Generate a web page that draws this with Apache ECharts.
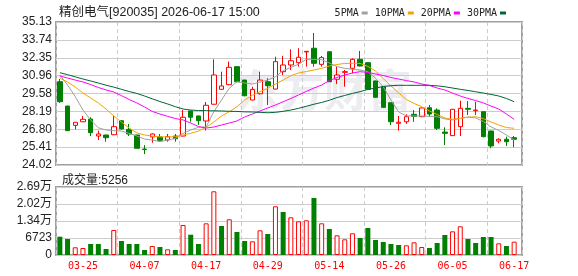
<!DOCTYPE html>
<html>
<head>
<meta charset="utf-8">
<script src="https://cdn.jsdelivr.net/npm/echarts@6/dist/echarts.min.js"></script>
<style>
  html, body { margin: 0; padding: 0; background: #fff; }
  #main { width: 578px; height: 276px; }
</style>
</head>
<body>
<div id="main"></div>
<script>
const dates = ['03-20','03-23','03-24','03-25','03-26','03-27','03-30','03-31','04-01','04-02',
  '04-03','04-07','04-08','04-09','04-10','04-13','04-14','04-15','04-16','04-17',
  '04-20','04-21','04-22','04-23','04-24','04-27','04-28','04-29','04-30','05-06',
  '05-07','05-08','05-11','05-12','05-13','05-14','05-15','05-18','05-19','05-20',
  '05-21','05-22','05-25','05-26','05-27','05-28','05-29','06-01','06-02','06-03',
  '06-04','06-05','06-08','06-09','06-10','06-11','06-12','06-15','06-16','06-17'];

// [open, close, low, high]
const candles = [
  [30.49,28.94,28.84,30.70],[28.60,26.69,26.67,28.62],[27.10,27.34,26.79,27.36],[27.38,27.57,27.36,27.83],
  [27.59,26.53,26.27,27.73],[26.27,26.43,25.96,26.69],[26.35,26.14,25.83,26.37],[26.37,27.00,26.35,27.83],
  [27.46,26.82,26.78,27.50],[26.79,26.43,26.27,27.21],[26.35,25.32,25.30,26.36],[25.26,25.22,24.87,25.57],
  [26.20,26.43,25.75,26.48],[26.20,25.94,25.83,26.43],[25.96,26.22,25.83,26.43],[26.27,26.06,25.83,26.43],
  [26.27,27.73,26.25,28.29],[28.22,27.73,27.38,28.24],[27.83,27.46,27.13,27.85],[27.44,28.66,26.69,28.91],
  [28.74,31.01,28.72,32.23],[29.90,30.16,29.88,31.27],[30.26,31.61,30.22,32.05],[31.66,30.49,30.45,31.68],
  [30.62,29.40,29.36,30.64],[29.07,29.88,29.05,30.10],[29.56,30.62,29.50,31.27],[30.49,30.18,28.68,30.76],
  [29.92,32.05,29.90,32.43],[31.27,31.79,31.01,32.50],[31.79,32.12,31.40,33.01],[31.97,32.39,31.66,33.09],
  [32.80,32.85,31.66,32.87],[33.09,31.92,31.66,34.28],[31.84,32.36,31.66,32.49],[32.82,30.49,30.47,32.84],
  [30.68,31.01,30.31,31.66],[31.22,31.27,30.10,31.40],[31.53,32.23,31.14,32.31],[32.23,31.71,31.69,32.88],
  [31.97,29.90,29.85,32.00],[30.55,29.28,29.26,30.57],[30.10,28.50,28.46,30.12],[28.86,27.38,27.13,28.88],
  [27.26,27.34,26.69,27.83],[27.38,27.77,27.21,27.96],[27.96,27.80,27.38,28.29],[27.77,28.45,27.75,28.47],
  [28.47,27.98,27.77,28.68],[28.29,26.87,26.74,28.42],[26.58,26.48,25.57,26.95],[26.30,28.35,26.28,28.37],
  [27.00,28.42,26.27,29.02],[28.42,28.35,27.90,28.99],[28.24,28.29,27.90,28.94],[28.16,26.22,26.17,28.18],
  [26.66,25.50,25.32,26.68],[25.88,26.02,25.71,26.09],[26.02,25.83,25.50,26.22],[26.14,26.02,25.40,26.27]
];

const ma5 = [31.01,30.24,29.33,28.29,27.52,26.91,26.74,26.69,26.66,26.48,26.27,26.04,25.96,25.83,25.96,
  26.09,26.48,26.74,26.95,26.98,28.16,29.07,29.98,30.49,30.39,30.31,30.47,30.62,30.88,31.35,
  31.60,31.85,32.23,32.23,32.20,31.95,31.66,31.53,31.45,31.40,31.27,30.76,30.10,29.07,28.14,
  27.83,27.83,27.83,27.80,27.77,27.60,27.52,27.65,27.75,27.67,27.40,26.98,26.70,26.35,25.96];
const ma10 = [30.76,30.47,30.08,29.61,29.23,28.84,28.37,27.83,27.36,26.89,26.51,26.35,26.27,26.20,26.20,
  26.22,26.35,26.48,26.66,26.95,27.36,27.83,28.16,28.55,29.07,29.43,29.72,29.98,30.31,30.62,
  30.96,31.17,31.28,31.40,31.53,31.71,31.83,31.91,31.92,31.91,31.68,31.32,30.74,30.16,29.62,
  29.11,28.80,28.55,28.22,27.94,27.67,27.57,27.63,27.73,27.77,27.63,27.36,27.13,26.93,26.87];
const ma20 = [30.93,30.78,30.62,30.47,30.27,30.04,29.85,29.69,29.41,29.11,28.84,28.53,28.18,27.98,27.80,
  27.63,27.52,27.28,27.01,26.89,26.97,27.13,27.28,27.44,27.75,27.98,28.22,28.45,28.68,28.94,
  29.19,29.46,29.73,30.00,30.23,30.58,30.82,31.01,31.17,31.27,31.21,31.09,30.97,30.82,30.70,
  30.58,30.47,30.31,30.20,30.00,29.85,29.61,29.38,29.19,29.03,28.84,28.60,28.37,27.98,27.57];
const ma30 = [31.19,31.04,30.87,30.70,30.55,30.39,30.22,30.07,29.90,29.73,29.58,29.38,29.16,28.95,28.76,
  28.55,28.37,28.29,28.25,28.24,28.23,28.22,28.19,28.18,28.15,28.14,28.11,28.08,28.11,28.19,
  28.29,28.42,28.58,28.74,28.88,29.05,29.26,29.42,29.58,29.72,29.89,30.00,30.12,30.18,30.21,
  30.21,30.21,30.21,30.21,30.17,30.10,30.00,29.90,29.81,29.71,29.61,29.50,29.38,29.19,28.94];

const volumes = [7240,6330,3050,2770,4350,4350,2370,9890,5540,4350,
  4350,1980,3560,3160,2250,1980,11870,8030,4350,12530,
  25190,11470,14120,9100,5540,5410,9760,8300,19260,17010,
  14900,13320,13720,22540,12530,10280,7780,6200,8580,6720,
  10680,5930,5140,4350,3955,3820,5010,3160,2770,4750,
  7910,9360,11340,6330,4750,7120,7120,4610,3560,5256];
// 1 = up (red hollow), 0 = down (green)
const volUp = [0,0,1,1,0,0,0,1,0,0, 0,0,1,0,1,0,1,0,0,1, 1,0,1,0,0,1,1,0,1,0,
  1,1,1,0,1,0,1,1,1,0, 0,0,0,0,0,1,1,1,0,0, 0,1,1,0,0,0,0,1,0,1];

const priceTicks = ['24.02','25.41','26.80','28.19','29.58','30.96','32.35','33.74','35.13'];
const volTicks = ['0','6723','1.34万','2.02万','2.69万'];
const priceMin = 24.02, priceMax = 35.13;
const volMax = 26892;

const titleText = '精创电气[920035] 2026-06-17 15:00';
const maNames = ['5PMA','10PMA','20PMA','30PMA'];
const maColors = ['#a0a0a0','#f5a300','#ff00ff','#006633'];

const upColor = '#ff0000';
const downColor = '#008000';
const labelFont = 'Liberation Sans, Noto Sans CJK SC, sans-serif';
const monoFont = 'DejaVu Sans Mono, monospace';

const chart = echarts.init(document.getElementById('main'), null, {renderer: 'canvas'});

const showIdx = function (index) { return index % 8 === 3; };

const option = {
  animation: false,
  backgroundColor: '#fff',
  title: [
    {
      text: titleText, left: 54, top: 1,
      textStyle: {fontSize: 12.5, fontWeight: 'normal', color: '#222', fontFamily: labelFont}
    },
    {
      text: '成交量:' + volumes[volumes.length - 1], left: 57, top: 170,
      textStyle: {fontSize: 12, fontWeight: 'normal', color: '#222', fontFamily: labelFont}
    }
  ],
  legend: {
    data: maNames,
    right: 67, top: 3,
    align: 'right',
    icon: 'rect',
    itemWidth: 6, itemHeight: 3,
    itemGap: 7,
    textStyle: {fontSize: 10, color: '#222', fontFamily: monoFont, padding: [0, -2, 0, 0]}
  },
  graphic: [
    {
      type: 'text', left: 236, top: 68, z: -1, silent: true,
      style: {text: '东方财富', fontSize: 44, fontWeight: 'bold', fill: '#ededf1',
        fontFamily: 'Noto Sans CJK SC'}
    }
  ],
  grid: [
    {left: 56, top: 22, width: 462, height: 143, show: false},
    {left: 56, top: 187, width: 462, height: 68, show: false},
    {left: 56, top: 22, width: 466, height: 143, show: true, borderColor: '#a0a0a0', borderWidth: 2},
    {left: 56, top: 187, width: 466, height: 68, show: true, borderColor: '#a0a0a0', borderWidth: 2}
  ],
  xAxis: [
    {
      type: 'category', gridIndex: 0, data: dates, boundaryGap: true,
      axisLine: {show: false}, axisTick: {show: false}, axisLabel: {show: false}, splitLine: {show: false}
    },
    {
      type: 'category', gridIndex: 1, data: dates, boundaryGap: true,
      axisLine: {show: false}, axisTick: {show: false}, splitLine: {show: false},
      axisLabel: {interval: showIdx, color: upColor, fontSize: 10, fontFamily: monoFont, margin: 6}
    },
    {
      // frame axis: dashed verticals through every 8th candle centre
      type: 'value', gridIndex: 2, min: -3.5, max: -3.5 + 466 / 7.7, interval: 8,
      axisLine: {show: false}, axisTick: {show: false}, axisLabel: {show: false},
      splitLine: {show: true, lineStyle: {color: '#cccccc', type: [4, 3], width: 1}}
    },
    {
      type: 'value', gridIndex: 3, min: -3.5, max: -3.5 + 466 / 7.7, interval: 8,
      axisLine: {show: false}, axisTick: {show: false}, axisLabel: {show: false},
      splitLine: {show: true, lineStyle: {color: '#cccccc', type: [4, 3], width: 1}}
    }
  ],
  yAxis: [
    {
      type: 'value', gridIndex: 0, min: priceMin, max: priceMax,
      axisLine: {show: false}, axisTick: {show: false}, axisLabel: {show: false}, splitLine: {show: false}
    },
    {
      type: 'value', gridIndex: 1, min: 0, max: volMax,
      axisLine: {show: false}, axisTick: {show: false}, axisLabel: {show: false}, splitLine: {show: false}
    },
    {
      type: 'value', gridIndex: 2, min: 0, max: priceTicks.length - 1, interval: 1,
      axisLine: {show: false}, axisTick: {show: false},
      axisLabel: {
        margin: 4, fontSize: 12, color: '#222', fontFamily: labelFont,
        formatter: function (v) { return priceTicks[Math.round(v)]; }
      },
      splitLine: {show: true, lineStyle: {color: '#cccccc', width: 1}}
    },
    {
      type: 'value', gridIndex: 3, min: 0, max: volTicks.length - 1, interval: 1,
      axisLine: {show: false}, axisTick: {show: false},
      axisLabel: {
        margin: 4, fontSize: 12, color: '#222', fontFamily: labelFont,
        formatter: function (v) { return volTicks[Math.round(v)]; }
      },
      splitLine: {show: true, lineStyle: {color: '#cccccc', width: 1}}
    }
  ],
  series: [
    {
      name: 'K', type: 'candlestick', xAxisIndex: 0, yAxisIndex: 0,
      data: candles, barWidth: 5,
      itemStyle: {color: '#fff', color0: downColor, borderColor: upColor, borderColor0: downColor, borderWidth: 1}
    },
    ...maNames.map(function (name, k) {
      return {
        name: name, type: 'line', xAxisIndex: 0, yAxisIndex: 0,
        data: [ma5, ma10, ma20, ma30][k], symbol: 'none', smooth: false,
        lineStyle: {color: maColors[k], width: 1}, itemStyle: {color: maColors[k]}, z: 3
      };
    }),
    {
      name: 'Volume', type: 'bar', xAxisIndex: 1, yAxisIndex: 1, barWidth: 5,
      data: volumes.map(function (v, i) {
        return {
          value: v,
          itemStyle: volUp[i]
            ? {color: '#fff', borderColor: upColor, borderWidth: 1}
            : {color: downColor}
        };
      })
    }
  ]
};

chart.setOption(option);
</script>
</body>
</html>
